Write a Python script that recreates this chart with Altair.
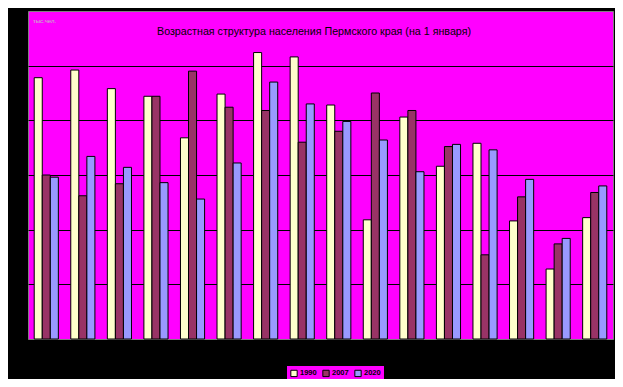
import altair as alt
import pandas as pd

ages = ["0-4", "5-9", "10-14", "15-19", "20-24", "25-29", "30-34", "35-39",
        "40-44", "45-49", "50-54", "55-59", "60-64", "65-69", "70-74", "75 и старше"]
years = ["1990", "2007", "2020"]
v1990 = [239, 246, 229, 222, 184, 224, 262, 258, 214, 109, 203, 158, 179, 108, 64, 111]
v2007 = [150, 131, 142, 222, 245, 212, 209, 180, 190, 225, 209, 176, 77, 130, 87, 134]
v2020 = [148, 167, 157, 143, 128, 161, 235, 215, 199, 182, 153, 178, 173, 146, 92, 140]
title_text = "Возрастная структура населения Пермского края (на 1 января)"
unit_text = "тыс.чел."
colors = ["#FFFFCC", "#993366", "#9999FF"]

rows = []
for i, a in enumerate(ages):
    for y, vals in zip(years, [v1990, v2007, v2020]):
        rows.append({"age": a, "year": y, "value": vals[i]})
df = pd.DataFrame(rows)

bars = alt.Chart(df).mark_bar(stroke="black", strokeWidth=1).encode(
    x=alt.X("age:N", sort=ages,
            scale=alt.Scale(paddingInner=0.34, paddingOuter=0.17),
            axis=alt.Axis(title=None, labelColor="black", ticks=False, domain=False,
                          labelAngle=0, labelFontSize=6)),
    xOffset=alt.XOffset("year:N", sort=years),
    y=alt.Y("value:Q", scale=alt.Scale(domain=[0, 300], nice=False),
            axis=alt.Axis(title=None, values=[50, 100, 150, 200, 250], grid=True,
                          gridColor="black", gridWidth=1, gridOpacity=1,
                          labelColor="black", ticks=False, domain=False, labelFontSize=6)),
    color=alt.Color("year:N", sort=years,
                    scale=alt.Scale(domain=years, range=colors),
                    legend=alt.Legend(title=None, orient="none", legendX=259, legendY=355,
                                      direction="horizontal", symbolType="square",
                                      symbolSize=40, symbolStrokeColor="black",
                                      symbolStrokeWidth=1, labelFontSize=7.5,
                                      labelColor="black", labelFontWeight="bold",
                                      fillColor="#FF00FF", padding=3,
                                      columnPadding=3, labelOffset=2)),
)

title = alt.Chart(pd.DataFrame({"t": [title_text]})).mark_text(
    font="Liberation Sans", fontSize=10.7, color="black", align="center", baseline="middle"
).encode(text="t:N", x=alt.value(286), y=alt.value(21))

unit = alt.Chart(pd.DataFrame({"t": [unit_text]})).mark_text(
    font="Liberation Sans", fontSize=6, color="#C0C0C0", align="left", baseline="middle"
).encode(text="t:N", x=alt.value(5), y=alt.value(10))

chart = alt.layer(bars, title, unit).properties(
    width=585, height=328,
    padding={"left": 20, "top": 3, "right": 2, "bottom": 40},
    autosize=alt.AutoSizeParams(type="none"),
    background="black",
).configure_view(fill="#FF00FF", stroke="#808080", strokeWidth=1)

chart.save("out.html", embed_options={"renderer": "svg", "actions": False})
